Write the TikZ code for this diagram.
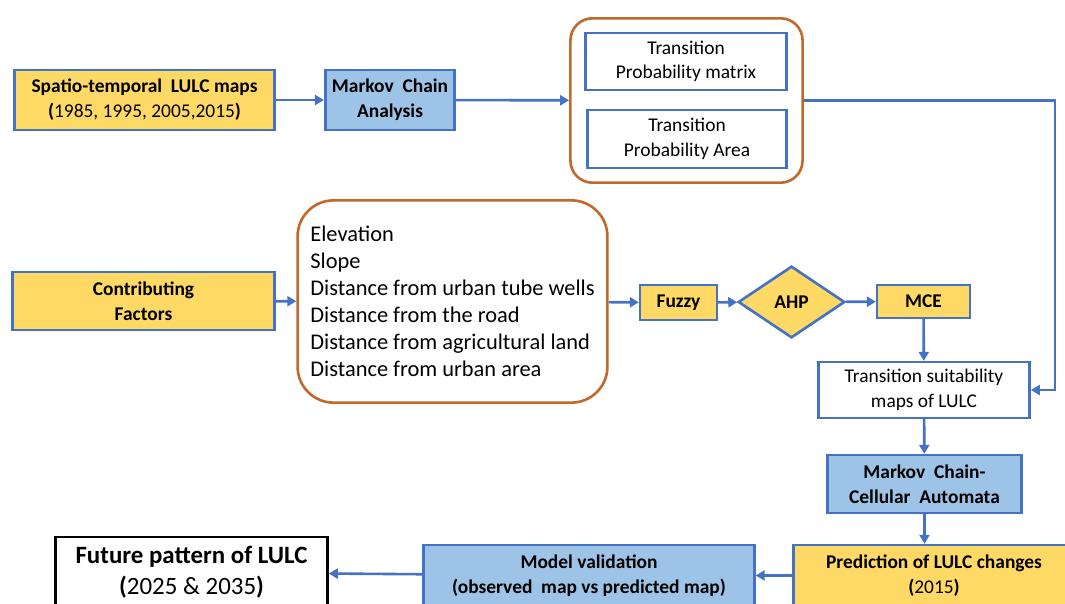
\documentclass[tikz,border=0pt]{standalone}
\usepackage{fontspec}
\setmainfont{Carlito}
\usetikzlibrary{shapes.geometric,arrows.meta}

\definecolor{lineblue}{HTML}{4472C4}
\definecolor{boxyellow}{HTML}{FFD966}
\definecolor{boxblue}{HTML}{9DC3E6}
\definecolor{grporange}{HTML}{C0692B}

\tikzset{
    base/.style={draw=lineblue, line width=2.6bp, align=center, inner sep=1bp,
        font=\fontsize{19.5}{25}\selectfont\bfseries},
    yelbox/.style={base, fill=boxyellow},
    blubox/.style={base, fill=boxblue},
    whtbox/.style={base, fill=white, font=\fontsize{19.5}{24.5}\selectfont},
    grpbox/.style={draw=grporange, line width=2.6bp, fill=white},
    arr/.style={draw=lineblue, line width=2.6bp, -{Triangle[length=9bp,width=10bp]}}
}

\begin{document}
\begin{tikzpicture}[x=1bp,y=-1bp]
    \useasboundingbox (0,0) rectangle (1065,604);
    \clip (0,0) rectangle (1065,604);

    % Markov chain branch
    \node[yelbox, minimum width=261, minimum height=60] (maps) at (144.5,100)
        {Spatio-temporal\ \ LULC maps\\\textbf{(}\mdseries 1985, 1995, 2005,2015\textbf{)}};
    \node[blubox, minimum width=130, minimum height=60] (markov) at (390,100)
        {Markov\ \ Chain\\Analysis};
    \node[grpbox, rounded corners=22bp, minimum width=233, minimum height=165] (grp) at (686.5,100.5) {};
    \node[whtbox, minimum width=202, minimum height=57] (tpm) at (686,61.5)
        {Transition\\Probability matrix};
    \node[whtbox, minimum width=200, minimum height=58] (tpa) at (687,139)
        {Transition\\Probability Area};

    % Suitability branch
    \node[yelbox, minimum width=263, minimum height=58] (factors) at (143.5,301)
        {Contributing\\Factors};
    \node[grpbox, rounded corners=36bp, minimum width=311, minimum height=203, align=left,
        font=\fontsize{22.5}{27.2}\selectfont] (list) at (452.5,301.5)
        {Elevation\\Slope\\Distance from urban tube wells\\Distance from the road\\
         Distance from agricultural land\\Distance from urban area};
    \node[yelbox, minimum width=77, minimum height=35] (fuzzy) at (678.5,302.5) {Fuzzy};
    \node[yelbox, diamond, inner sep=0pt, minimum width=107, minimum height=72] (ahp) at (791.5,302) {AHP};
    \node[yelbox, minimum width=93, minimum height=33] (mce) at (923.5,301.5) {MCE};

    % Simulation
    \node[whtbox, minimum width=212, minimum height=56] (suit) at (924,390)
        {Transition suitability\\maps of LULC};
    \node[blubox, minimum width=195, minimum height=58] (mcca) at (924.5,484)
        {Markov\ \ Chain-\\Cellular\ \ Automata};
    \node[yelbox, minimum width=282, minimum height=61] (pred) at (934,575.5)
        {Prediction of LULC changes\\\textbf{(}\mdseries 2015\textbf{)}};
    \node[blubox, minimum width=332, minimum height=61] (model) at (589,575.5)
        {Model validation\\(observed\ \ map vs predicted map)};
    \node[base, draw=black, fill=white, minimum width=273, minimum height=71,
        font=\fontsize{25}{31}\selectfont\bfseries] (future) at (191.5,572.5)
        {Future pattern of LULC\\\textbf{(}\mdseries 2025 \& 2035\textbf{)}};

    % Connectors
    \coordinate (turn) at (1055,100.5);
    \draw[arr] (maps) -- (markov);
    \draw[arr] (markov) -- (grp);
    \draw[arr] (grp.east) -- (turn) |- (suit.east);
    \draw[arr] (factors) -- (list);
    \draw[arr] (list) -- (fuzzy);
    \draw[arr] (fuzzy) -- (ahp);
    \draw[arr] (ahp) -- (mce);
    \draw[arr] (mce) -- (suit);
    \draw[arr] (suit) -- (mcca);
    \draw[arr] (mcca.south) -- (mcca.south |- pred.north);
    \draw[arr] (pred) -- (model);
    \draw[arr] (model) -- (future);
\end{tikzpicture}
\end{document}
